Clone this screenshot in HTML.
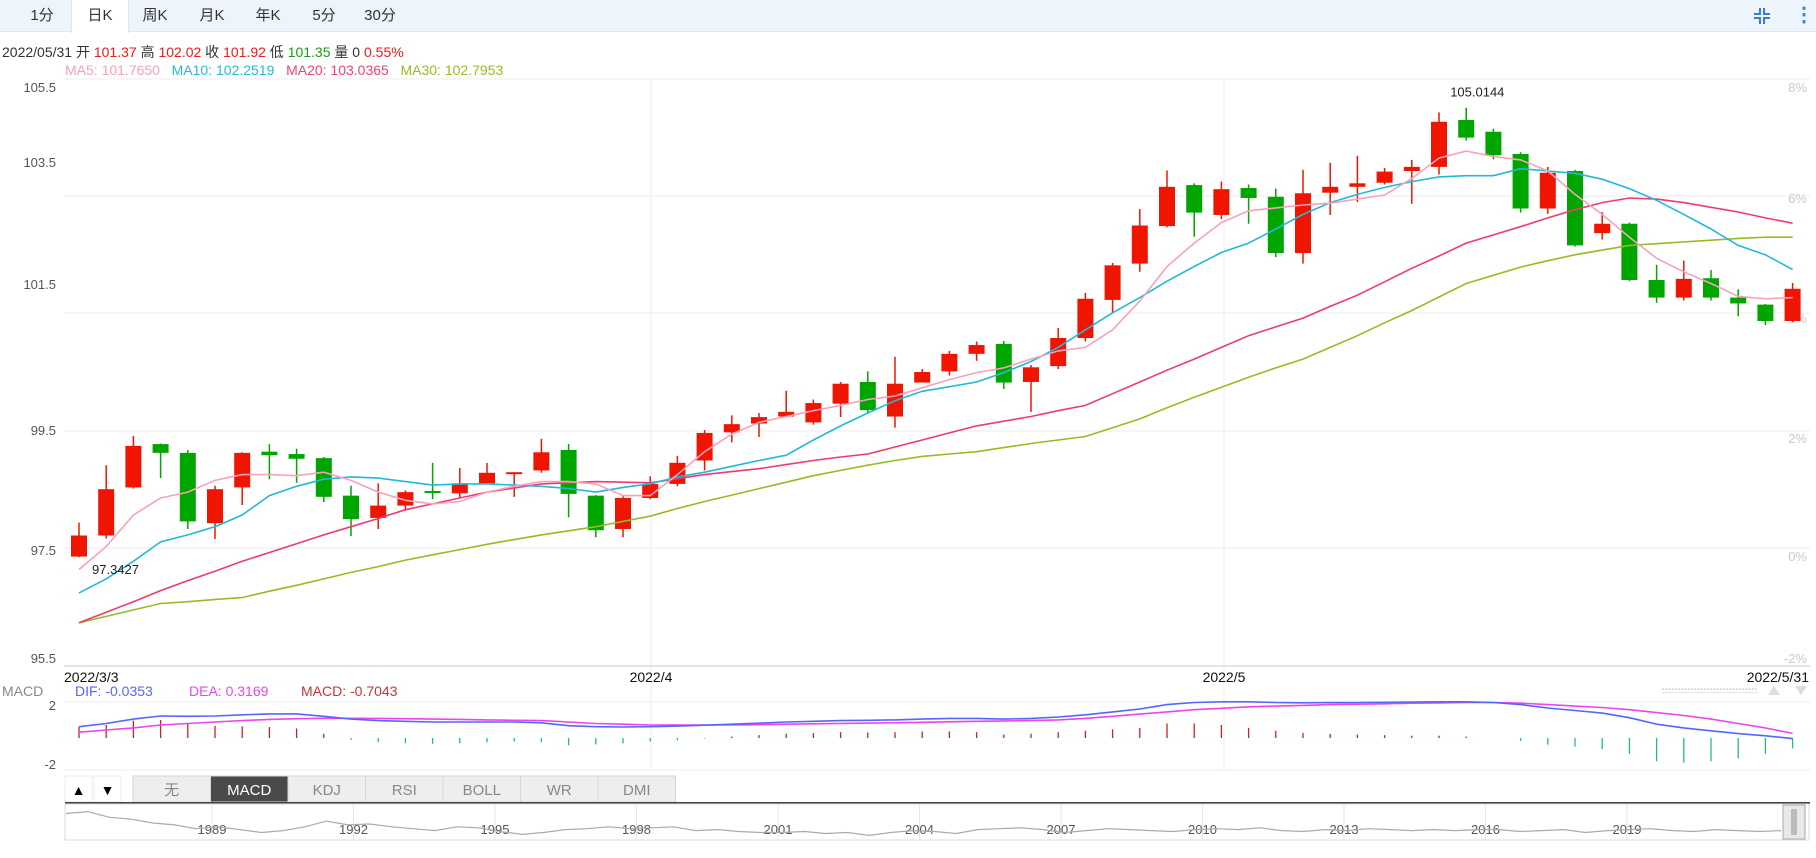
<!DOCTYPE html>
<html><head><meta charset="utf-8">
<style>
body{margin:0;background:#fff;font-family:"Liberation Sans","Noto Sans CJK SC",sans-serif;}
#root{position:relative;width:1816px;height:858px;overflow:hidden;background:#fff;}
.tabs{position:absolute;left:0;top:0;width:1816px;height:32px;background:#eef4fc;border-bottom:1px solid #dde6f2;box-sizing:border-box;}
.tab{position:absolute;top:0;height:32px;line-height:32px;font-size:15px;color:#333;text-align:center;width:56px;}
.tab.active{background:#fff;border-left:1px solid #dde6f2;border-right:1px solid #dde6f2;height:33px;}
.t{position:absolute;white-space:nowrap;font-size:14px;}
</style></head>
<body><div id="root">
<div class="tabs">
 <div class="tab" style="left:14px">1分</div>
 <div class="tab active" style="left:71px">日K</div>
 <div class="tab" style="left:127px">周K</div>
 <div class="tab" style="left:184px">月K</div>
 <div class="tab" style="left:240px">年K</div>
 <div class="tab" style="left:296px">5分</div>
 <div class="tab" style="left:352px">30分</div>
 <svg style="position:absolute;left:1752px;top:6px" width="20" height="20"><path d="M2 8h6V2M18 8h-6V2M2 12h6v6M18 12h-6v6" stroke="#3b7ddd" stroke-width="2" fill="none"/></svg>
 <div style="position:absolute;left:1794px;top:2px;font-size:20px;color:#3b7ddd;font-weight:bold">⋮</div>
</div>
<div class="t" style="left:2px;top:42px;color:#333">2022/05/31 开 <span style="color:#f01a1a">101.37</span> 高 <span style="color:#f01a1a">102.02</span> 收 <span style="color:#f01a1a">101.92</span> 低 <span style="color:#1a9a1a">101.35</span> 量 0 <span style="color:#f01a1a">0.55%</span></div>
<div class="t" style="left:65px;top:62px"><span style="color:#f7a1bb">MA5: 101.7650</span>&nbsp;&nbsp;&nbsp;<span style="color:#28b8dc">MA10: 102.2519</span>&nbsp;&nbsp;&nbsp;<span style="color:#ee4477">MA20: 103.0365</span>&nbsp;&nbsp;&nbsp;<span style="color:#99bb22">MA30: 102.7953</span></div>
<svg id="svg" width="1816" height="858" style="position:absolute;left:0;top:0"></svg>
</div>
<script>
const opens=[97.35,97.71,98.53,99.27,99.12,97.92,98.53,99.14,99.10,99.03,98.39,98.01,98.22,98.47,98.43,98.60,98.78,98.82,99.17,98.39,97.82,98.35,98.59,98.99,99.47,99.62,99.74,99.64,99.96,100.33,99.74,100.32,100.51,100.81,100.98,100.33,100.60,101.08,101.73,102.35,102.99,103.69,103.18,103.64,103.49,102.53,103.56,103.66,103.73,103.93,104.00,104.80,104.60,104.22,103.29,103.93,102.87,103.03,102.07,101.77,102.10,101.77,101.65,101.37];
const closes=[97.71,98.50,99.24,99.12,97.95,98.50,99.12,99.08,99.02,98.37,97.99,98.22,98.45,98.45,98.60,98.78,98.79,99.13,98.42,97.80,98.35,98.59,98.95,99.46,99.61,99.73,99.82,99.97,100.30,99.85,100.30,100.50,100.81,100.96,100.32,100.58,101.08,101.75,102.32,103.00,103.66,103.22,103.62,103.47,102.53,103.55,103.66,103.72,103.92,104.00,104.77,104.50,104.20,103.29,103.90,102.66,103.03,102.07,101.77,102.09,101.77,101.67,101.37,101.92];
const highs=[97.93,98.91,99.41,99.28,99.17,98.56,99.13,99.27,99.19,99.05,98.56,98.60,98.48,98.95,98.86,98.95,98.79,99.36,99.27,98.40,98.38,98.72,99.07,99.51,99.76,99.80,100.18,100.03,100.33,100.51,100.76,100.55,100.86,101.02,101.03,100.62,101.25,101.85,102.36,103.28,103.94,103.72,103.75,103.70,103.63,103.95,104.07,104.19,103.98,104.12,104.93,105.01,104.65,104.25,104.00,103.95,103.23,103.05,102.33,102.40,102.24,101.91,101.66,102.02];
const lows=[97.34,97.66,98.51,98.69,97.82,97.65,98.23,98.67,98.61,98.28,97.70,97.82,98.13,98.33,98.36,98.58,98.37,98.78,98.02,97.68,97.68,98.33,98.55,98.82,99.30,99.39,99.73,99.60,99.73,99.81,99.55,100.32,100.44,100.69,100.21,99.82,100.55,101.02,101.50,102.21,102.97,102.81,103.11,103.03,102.46,102.35,103.18,103.40,103.70,103.37,103.87,104.45,104.13,103.22,103.20,102.64,102.76,102.05,101.68,101.72,101.72,101.45,101.30,101.35];
const ma5=[97.13,97.52,98.06,98.35,98.45,98.65,98.75,98.75,98.73,98.79,98.65,98.45,98.31,98.25,98.29,98.45,98.55,98.63,98.63,98.59,98.39,98.39,98.75,99.14,99.44,99.64,99.74,99.84,99.93,100.03,100.09,100.23,100.37,100.49,100.57,100.72,100.86,100.92,101.22,101.71,102.30,102.70,103.05,103.25,103.30,103.35,103.38,103.45,103.52,103.80,104.15,104.27,104.18,104.12,103.93,103.53,103.19,102.80,102.44,102.21,102.01,101.79,101.75,101.77];
const ma10=[96.73,96.97,97.27,97.60,97.72,97.86,98.06,98.39,98.55,98.67,98.71,98.69,98.63,98.57,98.59,98.59,98.57,98.55,98.51,98.45,98.53,98.59,98.71,98.79,98.89,98.99,99.08,99.34,99.58,99.80,100.01,100.17,100.25,100.33,100.49,100.68,100.92,101.22,101.51,101.77,102.05,102.30,102.54,102.70,102.94,103.19,103.39,103.53,103.65,103.75,103.83,103.85,103.85,103.97,103.93,103.89,103.79,103.63,103.43,103.19,102.94,102.66,102.50,102.25];
const ma20=[96.22,96.40,96.58,96.77,96.94,97.10,97.27,97.42,97.57,97.72,97.86,98.00,98.15,98.25,98.35,98.45,98.52,98.59,98.61,98.63,98.62,98.61,98.68,98.75,98.80,98.85,98.92,98.99,99.05,99.10,99.22,99.34,99.46,99.58,99.66,99.74,99.84,99.93,100.13,100.33,100.53,100.72,100.92,101.12,101.27,101.42,101.62,101.81,102.04,102.27,102.48,102.70,102.84,102.98,103.13,103.27,103.39,103.47,103.45,103.39,103.31,103.23,103.13,103.04];
const ma30=[96.22,96.33,96.44,96.55,96.58,96.62,96.65,96.76,96.86,96.97,97.08,97.18,97.29,97.38,97.47,97.56,97.64,97.72,97.79,97.86,97.95,98.04,98.17,98.29,98.40,98.51,98.62,98.73,98.82,98.91,98.99,99.06,99.10,99.14,99.21,99.28,99.34,99.40,99.55,99.70,99.89,100.07,100.24,100.41,100.57,100.72,100.92,101.12,101.34,101.55,101.78,102.01,102.15,102.29,102.40,102.50,102.58,102.66,102.69,102.72,102.75,102.78,102.80,102.80];
const dif=[0.78,1.0,1.3,1.52,1.5,1.52,1.6,1.66,1.66,1.5,1.3,1.2,1.15,1.1,1.1,1.1,1.1,1.05,0.85,0.78,0.76,0.78,0.82,0.88,0.95,1.02,1.1,1.15,1.2,1.22,1.25,1.3,1.35,1.35,1.3,1.35,1.45,1.6,1.8,2.0,2.3,2.45,2.5,2.5,2.45,2.43,2.44,2.45,2.46,2.48,2.5,2.5,2.45,2.3,2.07,1.9,1.72,1.4,0.95,0.7,0.5,0.3,0.15,-0.04];
const dea=[0.4,0.55,0.7,0.9,1.0,1.1,1.2,1.28,1.33,1.36,1.36,1.35,1.33,1.3,1.28,1.25,1.22,1.2,1.1,1.0,0.95,0.9,0.9,0.9,0.9,0.92,0.95,0.98,1.0,1.03,1.05,1.08,1.12,1.15,1.18,1.2,1.25,1.35,1.5,1.65,1.8,1.95,2.05,2.15,2.2,2.25,2.3,2.33,2.36,2.4,2.42,2.45,2.45,2.4,2.3,2.2,2.1,1.95,1.75,1.55,1.3,1.0,0.7,0.32];
const priceTicks=[105.5,103.5,101.5,99.5,97.5,95.5];
const priceTickY=[87,162,284,430,550,658];
const pctTicks=["8%","6%","4%","2%","0%","-2%"];
const pctTickY=[87,198,318,438,556,658];
const navYears=["1989","1992","1995","1998","2001","2004","2007","2010","2013","2016","2019"];
const navLevels=[10,8,14,16,20,22,26,24,27,30,28,24,18,22,21,24,26,28,24,25,29,32,30,27,26,24,26,25,24,28,27,29,30,30,29,31,30,33,30,28,29,31,27,26,25,27,30,28,26,27,28,29,27,26,27,25,28,29,27,28,26,27,28,27,28,27,27,29,28,27,30,28,27,26,28,29,27,28,29,28];

const NS='http://www.w3.org/2000/svg';
const svg=document.getElementById('svg');
function mk(tag,attrs,parent){const e=document.createElementNS(NS,tag);for(const k in attrs)e.setAttribute(k,attrs[k]);(parent||svg).appendChild(e);return e;}
const yP=p=>79+(105.5-p)*58.6;
const xI=i=>79+27.2*i;
const yM=v=>738-v*14.5;

// frames / gridlines
mk('line',{x1:64,y1:79,x2:1810,y2:79,stroke:'#eee'});
[196,313,431,548].forEach(y=>mk('line',{x1:64,y1:y,x2:1810,y2:y,stroke:'#eee'}));
mk('line',{x1:64,y1:666,x2:1810,y2:666,stroke:'#e3e3e3','stroke-width':2});
[651,1224].forEach(x=>mk('line',{x1:x,y1:79,x2:x,y2:770,stroke:'#eee'}));
mk('line',{x1:64,y1:702,x2:1810,y2:702,stroke:'#eee'});
mk('line',{x1:64,y1:770,x2:1810,y2:770,stroke:'#eee'});

let tg=mk('g',{});


priceTicks.forEach((p,k)=>{const t=mk('text',{x:56,y:priceTickY[k]+5,'text-anchor':'end','font-size':13,fill:'#555','font-family':'Liberation Sans'},tg);t.textContent=p.toFixed(1);});
let pg=mk('g',{});


pctTicks.forEach((p,k)=>{const t=mk('text',{x:1807,y:pctTickY[k]+5,'text-anchor':'end','font-size':13,fill:'#c8c8c8','font-family':'Liberation Sans'},pg);t.textContent=p;});

// candles
const cg=mk('g',{});


for(let i=0;i<opens.length;i++){
 const up=closes[i]>=opens[i];const col=up?'#f01500':'#00a600';
 const g=mk('g',{},cg);
 
 
 const x=xI(i);
 mk('line',{x1:x,y1:yP(highs[i]),x2:x,y2:yP(lows[i]),stroke:col,'stroke-width':1.5},g);
 const y1=yP(Math.max(opens[i],closes[i])),y2=yP(Math.min(opens[i],closes[i]));
 mk('rect',{x:x-8,y:y1,width:16,height:Math.max(2,y2-y1),fill:col},g);
}
function line(arr,f,col,name,w){
 const pts=arr.map((v,i)=>xI(i).toFixed(1)+','+f(v).toFixed(1)).join(' ');
 const l=mk('polyline',{points:pts,fill:'none',stroke:col,'stroke-width':w||1.6});
 
 
}
line(ma30,yP,'#99bb22','ma30-line');
line(ma20,yP,'#ee3a70','ma20-line');
line(ma10,yP,'#22b8dc','ma10-line');
line(ma5,yP,'#f7a1bb','ma5-line');

// max/min annotations
let hi=0,lo=0;highs.forEach((v,i)=>{if(v>highs[hi])hi=i;});lows.forEach((v,i)=>{if(v<lows[lo])lo=i;});
let a1=mk('text',{x:xI(hi)-16,y:yP(highs[hi])-11,'font-size':13,fill:'#222','font-family':'Liberation Sans'});a1.textContent='105.0144';


let a2=mk('text',{x:xI(lo)+13,y:yP(lows[lo])+17,'font-size':13,fill:'#222','font-family':'Liberation Sans'});a2.textContent='97.3427';



// date labels
[['2022/3/3',64,'start'],['2022/4',651,'middle'],['2022/5',1224,'middle'],['2022/5/31',1809,'end']].forEach(d=>{
 const t=mk('text',{x:d[1],y:682,'text-anchor':d[2],'font-size':14,fill:'#111','font-family':'Liberation Sans'});t.textContent=d[0];
 
 
});
// MACD legend
[['MACD',2,'#888'],['DIF: -0.0353',75,'#5566ff'],['DEA: 0.3169',189,'#ee44ee'],['MACD: -0.7043',301,'#cc3333']].forEach(d=>{
 const t=mk('text',{x:d[1],y:696,'font-size':14,fill:d[2],'font-family':'Liberation Sans'});t.textContent=d[0];
 
 
});
for(let k=0;k<30;k++)mk('rect',{x:1662+k*3.2,y:688,width:2,height:2,fill:'#ddd'});
mk('rect',{x:1662,y:692,width:96,height:1,fill:'#e4e4e4'});
let up=mk('path',{d:'M1768 695l6-9 6 9z',fill:'#ddd'});
let dn=mk('path',{d:'M1795 686l6 9 6-9z',fill:'#ddd'});
[['2',713],['-2',772]].forEach(d=>{const t=mk('text',{x:56,y:d[1]-3,'text-anchor':'end','font-size':13,fill:'#555','font-family':'Liberation Sans'});t.textContent=d[0];
 });
// histogram
const hg=mk('g',{});


dif.forEach((v,i)=>{const h=2*(v-dea[i]);mk('line',{x1:xI(i),y1:yM(0),x2:xI(i),y2:yM(h),stroke:h>=0?'#cc2222':'#22bb88','stroke-width':1.3},hg);});
line(dea,yM,'#ee44ee','dea-line',1.6);
line(dif,yM,'#5566ff','dif-line',1.6);

// indicator tabs
const bt=[['▲',65],['▼',94]];
bt.forEach(b=>{const g=mk('g',{});
 mk('rect',{x:b[1],y:776,width:27,height:26,fill:'#fff',stroke:'#eee'},g);
 const t=mk('text',{x:b[1]+13.5,y:795,'text-anchor':'middle','font-size':14,fill:'#000'},g);t.textContent=b[0];});
['无','MACD','KDJ','RSI','BOLL','WR','DMI'].forEach((n,k)=>{
 const g=mk('g',{});
 const x=133+k*77.5,act=n=='MACD';
 mk('rect',{x:x,y:776,width:77.5,height:26,fill:act?'#4a4a4a':'#eee',stroke:'#d6d6d6'},g);
 const t=mk('text',{x:x+38.75,y:795,'text-anchor':'middle','font-size':15,fill:act?'#fff':'#888','font-family':'Liberation Sans, Noto Sans CJK SC, sans-serif'},g);t.textContent=n;});
mk('rect',{x:65,y:802,width:1745,height:2,fill:'#444'});
// navigator
const ng=mk('g',{});


mk('rect',{x:65,y:804,width:1744,height:36,fill:'#fff',stroke:'#ddd'},ng);
navYears.forEach((y,k)=>{const x=212+k*141.5;mk('line',{x1:x,y1:804,x2:x,y2:840,stroke:'#e6e6e6'},ng);
 const t=mk('text',{x:x,y:834,'text-anchor':'middle','font-size':13,fill:'#555','font-family':'Liberation Sans'},ng);t.textContent=y;});
const nstep=1715/(navLevels.length-1);
mk('polyline',{points:navLevels.map((v,i)=>(66+i*nstep).toFixed(1)+','+(804+v*0.95).toFixed(1)).join(' '),fill:'none',stroke:'#aaa','stroke-width':1.2},ng);
mk('rect',{x:1783,y:805,width:22,height:34,fill:'#e8e8e8',stroke:'#aaa'},ng);
mk('rect',{x:1791,y:809,width:6,height:26,fill:'#bbb'},ng);
</script>
</body></html>
